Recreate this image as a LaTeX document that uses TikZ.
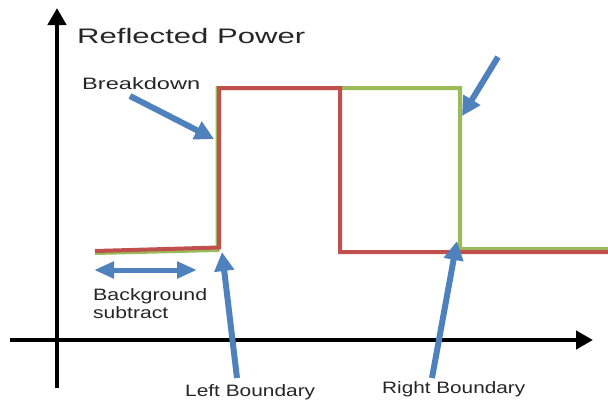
\documentclass[tikz,border=0pt]{standalone}
\usepackage{fontspec}
\setmainfont{Liberation Sans}
\usetikzlibrary{arrows.meta}
\definecolor{tracered}{HTML}{C0504D}
\definecolor{tracegreen}{HTML}{9BBB59}
\definecolor{pointer}{HTML}{4F81BD}
\definecolor{labelgray}{HTML}{262626}
\tikzset{
  axisline/.style={line width=4.5pt,-{Triangle[length=17pt,width=18pt]}},
  redtrace/.style={line width=4pt,tracered,line join=miter},
  greentrace/.style={line width=4pt,tracegreen,line join=miter},
  pointerarrow/.style={line width=6pt,pointer,-{Triangle[length=19pt,width=19pt]}},
  spanarrow/.style={line width=5pt,pointer,{Triangle[length=20pt,width=16pt]}-{Triangle[length=20pt,width=16pt]}},
  lbl/.style={anchor=base west,inner sep=0pt,text=labelgray,font=\fontsize{16.5}{18}\selectfont},
  ttl/.style={anchor=base west,inner sep=0pt,text=labelgray,font=\fontsize{21}{24}\selectfont}
}
\begin{document}
\begin{tikzpicture}[x=1pt,y=-1pt]
\useasboundingbox (0,0) rectangle (608,400);

% axes
\coordinate (yfoot) at (57,388);
\coordinate (ytip) at (57,8);
\coordinate (xfoot) at (10,340);
\coordinate (xtip) at (593,340);
\draw[axisline] (yfoot) -- (ytip);
\draw[axisline] (xfoot) -- (xtip);

% green trace (drawn first, red on top)
\coordinate (g0) at (95,253);
\coordinate (g1) at (217.5,250);
\coordinate (g2) at (217.5,88);
\coordinate (g3) at (460,88);
\coordinate (g4) at (460,249);
\coordinate (g5) at (610,249);
\draw[greentrace] (g0) -- (g1) -- (g2) -- (g3) -- (g4) -- (g5);

% red trace
\coordinate (r0) at (95,251);
\coordinate (r1) at (219,247.5);
\coordinate (r2) at (219,88);
\coordinate (r3) at (340,88);
\coordinate (r4) at (340,252);
\coordinate (r5) at (610,252);
\draw[redtrace] (r0) -- (r1) -- (r2) -- (r3) -- (r4) -- (r5);

% labels
\node[ttl] (title) at (77,43) {\resizebox{228pt}{\height}{Reflected Power}};
\node[lbl] (breakdown) at (82,89) {\resizebox{118pt}{\height}{Breakdown}};
\node[lbl] (bg1) at (93,300) {\resizebox{114pt}{\height}{Background}};
\node[lbl] (bg2) at (93,318) {\resizebox{75pt}{\height}{subtract}};
\node[lbl] (leftb) at (185,396) {\resizebox{130pt}{\height}{Left Boundary}};
\node[lbl] (rightb) at (382,393) {\resizebox{143pt}{\height}{Right Boundary}};

% pointers
\coordinate (bdtail) at (130,96);
\coordinate (bdtip) at (214,139);
\draw[pointerarrow] (bdtail) -- (bdtip);

\coordinate (rttail) at (498,57);
\coordinate (rttip) at (462,116);
\draw[pointerarrow] (rttail) -- (rttip);

\coordinate (spanl) at (94,270);
\coordinate (spanr) at (197,270);
\draw[spanarrow] (spanl) -- (spanr);

\coordinate (lbtail) at (237,378);
\coordinate (lbtip) at (222,252);
\draw[pointerarrow] (lbtail) -- (lbtip);

\coordinate (rbtail) at (432,378);
\coordinate (rbtip) at (457,241);
\draw[pointerarrow] (rbtail) -- (rbtip);
\end{tikzpicture}
\end{document}
